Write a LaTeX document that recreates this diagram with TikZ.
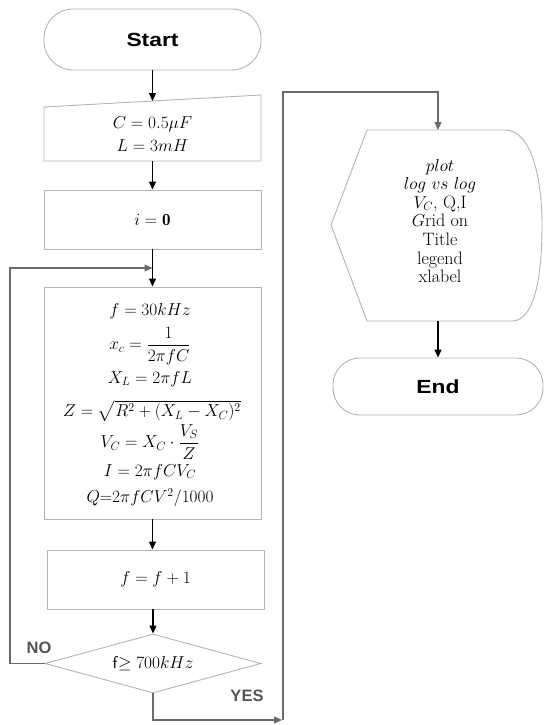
\documentclass[tikz,border=0pt]{standalone}
\usepackage{fontspec}
\usepackage{graphicx}
\usepackage{amsmath}
\usetikzlibrary{arrows.meta,shapes.geometric}
\newfontfamily\headfont{Liberation Sans}
\definecolor{boxgray}{HTML}{B4B4B4}
\definecolor{linegray}{HTML}{6A6A6A}
\definecolor{labgray}{HTML}{555555}
\begin{document}
\begin{tikzpicture}[x=1pt,y=-1pt,
  box/.style={draw=boxgray, line width=0.9pt, inner sep=0pt},
  boxline/.style={draw=boxgray, line width=0.9pt},
  arr/.style={-{Triangle[width=7pt,length=8pt]}, line width=1.2pt, black},
  garr/.style={-{Triangle[width=7pt,length=8pt]}, line width=1.2pt, draw=linegray},
  gline/.style={line width=1.2pt, draw=linegray},
  termtext/.style={font=\headfont\bfseries\fontsize{19}{22}\selectfont},
  mathtext/.style={font=\fontsize{17}{20}\selectfont, inner sep=0pt},
  lab/.style={font=\headfont\bfseries\fontsize{16.5}{19}\selectfont, text=labgray}
]
\useasboundingbox (0,0) rectangle (544,725);

% Start
\node[box, rounded corners=29pt, minimum width=217pt, minimum height=61pt, termtext] (start) at (152.5,39.5) {\scalebox{1.2}[1]{Start}};

% Manual input
\draw[boxline] (44,107) -- (261,95) -- (261,161) -- (44,161) -- cycle;
\node[inner sep=0pt, minimum width=217pt, minimum height=54pt, align=center, font=\fontsize{17}{23}\selectfont] (inp) at (152.5,134) {$C = 0.5\mu F$\\$L = 3mH$};
\coordinate (inptop) at (152.5,101);

% i = 0
\node[box, minimum width=217pt, minimum height=59pt, font=\fontsize{17}{20}\selectfont] (init) at (152.5,219.5) {$i = \mathbf{0}$};

% Calculation box
\node[box, minimum width=217pt, minimum height=232pt] (calc) at (152.5,403) {};
\node[mathtext] (c1) at (150,311) {$f = 30kHz$};
\node[mathtext] (c2) at (150,346) {$x_c = \dfrac{1}{2\pi fC}$};
\node[mathtext] (c3) at (150,379) {$X_L = 2\pi fL$};
\node[mathtext] (c4) at (152,411) {$Z = \sqrt{R^2 + (X_L - X_C)^2}$};
\node[mathtext] (c5) at (150,442) {$V_C = X_C \cdot \dfrac{V_S}{Z}$};
\node[mathtext] (c6) at (150,472) {$I = 2\pi fCV_C$};
\node[mathtext] (c7) at (150,498) {$Q$=$2\pi fCV^2/1000$};

% f = f + 1
\node[box, minimum width=217pt, minimum height=59pt, font=\fontsize{17}{20}\selectfont] (incr) at (155.5,579.5) {$f = f + 1$};

% Decision
\node[box, diamond, aspect=3.6, minimum width=216pt, minimum height=59pt, font=\fontsize{17}{20}\selectfont] (cond) at (153,663.5) {\textsf{f}$\geq 700kHz$};

% Display / plot
\draw[boxline] (331,225) -- (367,130) -- (505,130)
  .. controls (532,130) and (542,180) .. (542,225)
  .. controls (542,275) and (535,321) .. (512,321)
  -- (367,321) -- cycle;
\node[inner sep=0pt, align=center, font=\fontsize{18}{18.6}\selectfont] (plot) at (440,221)
  {$plot$\\ $log$ $vs$ $log$\\ $V_C$, Q,I\\ $G$rid on\\ Title\\ legend\\ xlabel};
\coordinate (plottop) at (438,130);
\coordinate (plotbot) at (438,321);

% End
\node[box, rounded corners=27pt, minimum width=210pt, minimum height=57pt, termtext] (end) at (438,386.5) {\scalebox{1.2}[1]{End}};

% Connectors
\draw[arr] (start.south) -- (inptop);
\draw[arr] (inp.south) -- (init.north);
\draw[arr] (init.south) -- (calc.north);
\draw[arr] (calc.south) -- (calc.south |- incr.north);
\draw[arr] (incr.south -| cond.north) -- (cond.north);
\draw[arr] (plotbot) -- (end.north);

\coordinate (loopleft) at (10,663.5);
\coordinate (merge) at (152.5,268);
\draw[garr] (cond.west) -- (loopleft) |- (merge);

\coordinate (yesdown) at (153,720);
\coordinate (yescorner) at (282,720);
\coordinate (ytop) at (283,92);
\draw[garr] (cond.south) -- (yesdown) -- (yescorner);
\draw[garr] (yescorner -| ytop) -- (ytop) -| (plottop);

% Labels
\node[lab] (no) at (39,648) {NO};
\node[lab] (yes) at (247,696) {YES};
\end{tikzpicture}
\end{document}
